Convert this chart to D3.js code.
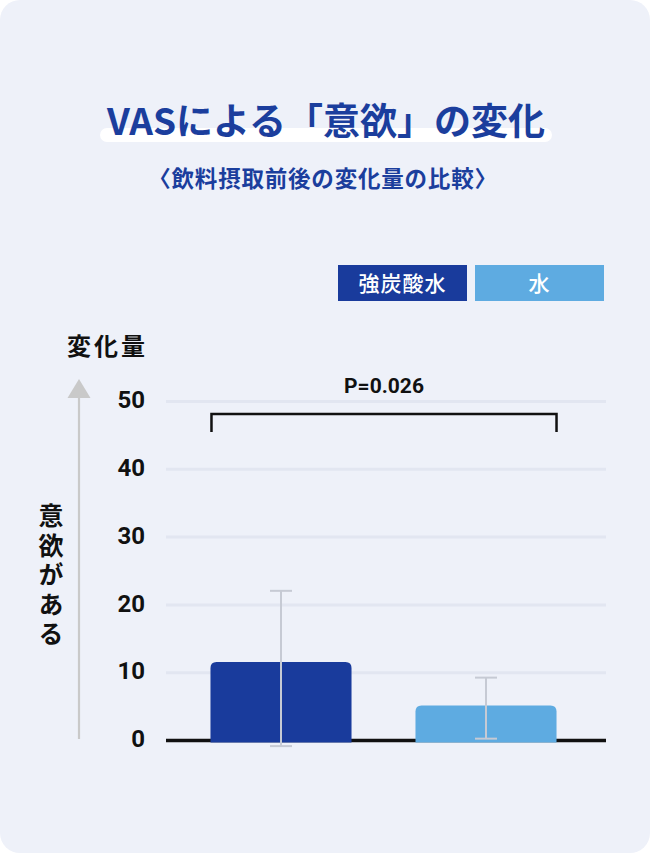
<!DOCTYPE html>
<html>
<head>
<meta charset="utf-8">
<script src="https://cdn.jsdelivr.net/npm/d3@7"></script>
<style>
  html, body { margin: 0; padding: 0; background: #ffffff; }
  svg { display: block; }
</style>
</head>
<body>
<span></span>
<script>
// data
var categories = ["強炭酸水", "水"];
var means = [11.5, 5.1];
var errLow = [-0.9, 0.2];
var errHigh = [22.0, 9.2];
var yTicks = [0, 10, 20, 30, 40, 50];
var colors = ["#193b9c", "#5eabe1"];
var pLabel = "P=0.026";
var bracketValue = 48.1;

var width = 650;
var height = 853;
var jp = "'Noto Sans CJK JP', 'Noto Sans', sans-serif";
var num = "Roboto, 'Noto Sans', sans-serif";
var navy = "#1b3e9d";

var svg = d3.select("span")
    .append("svg")
    .attr("width", width)
    .attr("height", height);

// card
svg.append("rect")
    .attr("width", width)
    .attr("height", height)
    .attr("rx", 20)
    .attr("fill", "#eef1f9");

// title with white highlight
svg.append("rect")
    .attr("x", 100)
    .attr("y", 128)
    .attr("width", 452)
    .attr("height", 14)
    .attr("rx", 7)
    .attr("fill", "#ffffff");

svg.append("text")
    .attr("x", 326)
    .attr("y", 135)
    .attr("text-anchor", "middle")
    .attr("font-family", jp)
    .attr("font-weight", 700)
    .attr("font-size", 37)
    .attr("fill", navy)
    .text("VASによる「意欲」の変化");

svg.append("text")
    .attr("x", 323)
    .attr("y", 187)
    .attr("text-anchor", "middle")
    .attr("font-family", jp)
    .attr("font-weight", 700)
    .attr("font-size", 22.5)
    .attr("letter-spacing", 0.8)
    .attr("fill", navy)
    .text("〈飲料摂取前後の変化量の比較〉");

// legend
var legend = svg.append("g")
    .selectAll("g")
    .data(categories)
    .enter()
    .append("g")
    .attr("transform", function(d, i) { return "translate(" + (338 + i * 137) + ",265)"; });

legend.append("rect")
    .attr("width", 129)
    .attr("height", 36)
    .attr("fill", function(d, i) { return colors[i]; });

legend.append("text")
    .attr("x", 64.5)
    .attr("y", 26)
    .attr("text-anchor", "middle")
    .attr("font-family", jp)
    .attr("font-weight", 500)
    .attr("font-size", 21)
    .attr("letter-spacing", 1)
    .attr("fill", "#ffffff")
    .text(function(d) { return d; });

// scales
var y = d3.scaleLinear().domain([0, 50]).range([740, 401]);
var x = d3.scaleBand()
    .domain(categories)
    .range([178.5, 588.5])
    .paddingInner(0.312)
    .paddingOuter(0.156);

// gridlines + tick labels
var axis = svg.append("g")
    .attr("transform", "translate(166,0)")
    .call(d3.axisLeft(y).tickValues(yTicks).tickSize(-440).tickFormat(d3.format("d")));
axis.select(".domain").remove();
axis.selectAll(".tick line")
    .attr("stroke", "#e2e6f1")
    .attr("stroke-width", 3);
axis.selectAll(".tick text")
    .attr("x", -21)
    .attr("dy", "0.28em")
    .attr("font-family", num)
    .attr("font-weight", 700)
    .attr("font-size", 24)
    .attr("fill", "#111111");

// y axis arrow and labels
svg.append("line")
    .attr("x1", 79).attr("x2", 79)
    .attr("y1", 396).attr("y2", 739)
    .attr("stroke", "#c9c9c9")
    .attr("stroke-width", 2.2);
svg.append("path")
    .attr("d", "M79,379 L90.5,398 L67.5,398 Z")
    .attr("fill", "#c9c9c9");

svg.append("text")
    .attr("x", 67)
    .attr("y", 355)
    .attr("font-family", jp)
    .attr("font-weight", 700)
    .attr("font-size", 24)
    .attr("letter-spacing", 3)
    .attr("fill", "#111111")
    .text("変化量");

// vertical label, one text element
svg.append("text")
    .attr("x", 51)
    .attr("y", 503)
    .style("writing-mode", "vertical-rl")
    .style("text-orientation", "upright")
    .attr("font-family", jp)
    .attr("font-weight", 700)
    .attr("font-size", 25)
    .attr("letter-spacing", 4.6)
    .attr("fill", "#111111")
    .text("意欲がある");

// baseline
svg.append("line")
    .attr("x1", 166).attr("x2", 606)
    .attr("y1", y(0) + 0.5).attr("y2", y(0) + 0.5)
    .attr("stroke", "#111111")
    .attr("stroke-width", 3.5);

// bars with rounded top corners
var r = 6;
var bottom = y(0) + 2.5;
svg.append("g")
    .selectAll("path")
    .data(categories)
    .enter()
    .append("path")
    .attr("fill", function(d, i) { return colors[i]; })
    .attr("d", function(d, i) {
        var x0 = x(d), x1 = x(d) + x.bandwidth(), t = y(means[i]);
        return "M" + x0 + "," + bottom +
            "L" + x0 + "," + (t + r) +
            "Q" + x0 + "," + t + " " + (x0 + r) + "," + t +
            "L" + (x1 - r) + "," + t +
            "Q" + x1 + "," + t + " " + x1 + "," + (t + r) +
            "L" + x1 + "," + bottom + "Z";
    });

// error bars
var errs = svg.append("g")
    .selectAll("g")
    .data(categories)
    .enter()
    .append("g")
    .attr("stroke", "#c6cad4")
    .attr("stroke-width", 2);
var cx = function(d) { return x(d) + x.bandwidth() / 2; };
errs.append("line")
    .attr("x1", cx).attr("x2", cx)
    .attr("y1", function(d, i) { return y(errHigh[i]); })
    .attr("y2", function(d, i) { return y(errLow[i]); });
errs.append("line")
    .attr("x1", function(d) { return cx(d) - 11; })
    .attr("x2", function(d) { return cx(d) + 11; })
    .attr("y1", function(d, i) { return y(errHigh[i]); })
    .attr("y2", function(d, i) { return y(errHigh[i]); });
errs.append("line")
    .attr("x1", function(d) { return cx(d) - 11; })
    .attr("x2", function(d) { return cx(d) + 11; })
    .attr("y1", function(d, i) { return y(errLow[i]); })
    .attr("y2", function(d, i) { return y(errLow[i]); });

// significance bracket
var bx0 = x(categories[0]) + 1;
var bx1 = x(categories[1]) + x.bandwidth();
var by = y(bracketValue);
svg.append("path")
    .attr("d", "M" + bx0 + "," + (by + 18) + "V" + by + "H" + bx1 + "V" + (by + 18))
    .attr("fill", "none")
    .attr("stroke", "#111111")
    .attr("stroke-width", 2.5);

svg.append("text")
    .attr("x", (bx0 + bx1) / 2)
    .attr("y", by - 21)
    .attr("text-anchor", "middle")
    .attr("font-family", num)
    .attr("font-weight", 700)
    .attr("font-size", 21)
    .attr("fill", "#111111")
    .text(pLabel);
</script>
</body>
</html>
